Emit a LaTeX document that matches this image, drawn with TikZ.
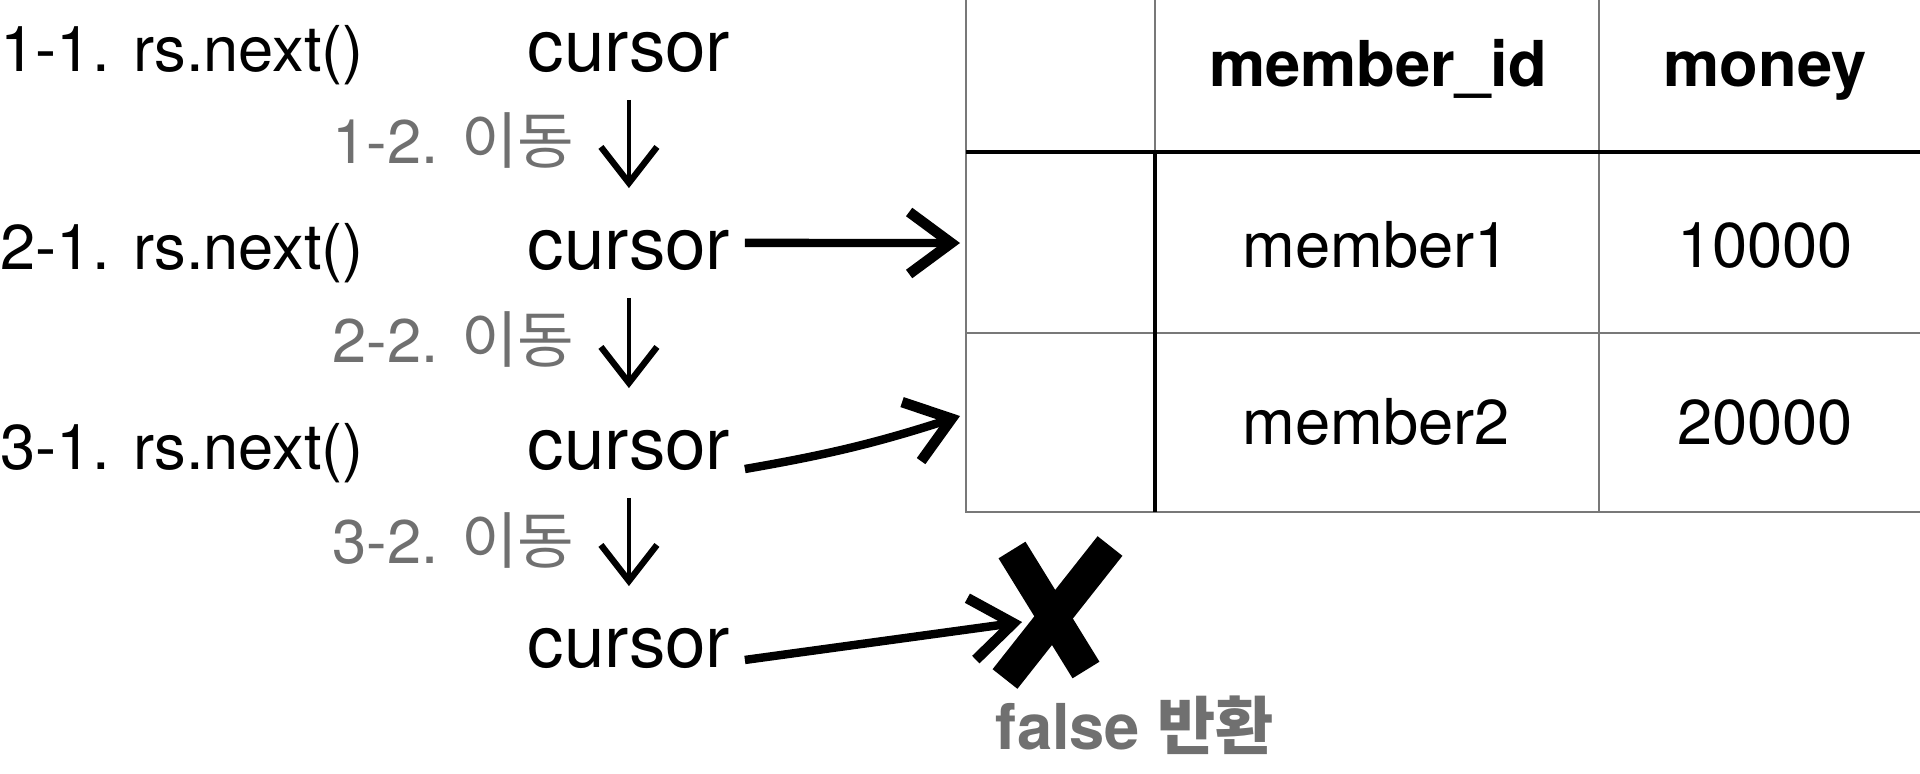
\documentclass[tikz,border=0pt]{standalone}
\usepackage{fontspec}
\setmainfont{TeX Gyre Heros}
\newfontfamily\kr{Noto Sans CJK KR}
\usetikzlibrary{arrows.meta}
\definecolor{txtgray}{RGB}{112,112,112}
\definecolor{linegray}{RGB}{120,120,120}
\tikzset{
  lbl/.style={inner sep=0pt, font=\fontsize{18}{20}\selectfont},
  cur/.style={inner sep=0pt, font=\fontsize{20.7}{24}\selectfont},
  mv/.style={inner sep=0pt, text=txtgray, font=\fontsize{17.5}{20}\selectfont},
  hd/.style={inner sep=0pt, font=\fontsize{18}{20}\selectfont\bfseries},
  movearrow/.style={line width=1.2pt, -{Straight Barb[length=0.36cm,width=0.56cm,line width=1.8pt]},
    shorten <=0.27cm, shorten >=0.41cm},
  ptr/.style={line width=2.4pt, -{Straight Barb[length=0.42cm,width=0.62cm,line width=3pt]}},
  thin/.style={linegray, line width=0.7pt},
  thick/.style={black, line width=1.3pt}
}
\begin{document}
\begin{tikzpicture}
    \useasboundingbox (0,0) rectangle (19.2,-7.73);
    % left column
    \node[lbl, anchor=base west] (n1) at (0,-0.71) {1-1. rs.next()};
    \node[lbl, anchor=base west] (n2) at (0,-2.69) {2-1. rs.next()};
    \node[lbl, anchor=base west] (n3) at (0,-4.69) {3-1. rs.next()};
    \node[cur, anchor=base west] (c1) at (5.27,-0.71) {cursor};
    \node[cur, anchor=base west] (c2) at (5.27,-2.69) {cursor};
    \node[cur, anchor=base west] (c3) at (5.27,-4.69) {cursor};
    \node[cur, anchor=base west] (c4) at (5.27,-6.67) {cursor};
    \node[mv, anchor=base east] (m1) at (5.75,-1.63) {1-2. {\kr 이동}};
    \node[mv, anchor=base east] (m2) at (5.75,-3.62) {2-2. {\kr 이동}};
    \node[mv, anchor=base east] (m3) at (5.75,-5.63) {3-2. {\kr 이동}};
    \draw[movearrow] (c1) -- (c2);
    \draw[movearrow] (c2) -- (c3);
    \draw[movearrow] (c3) -- (c4);
    % table
    \draw[thin] (9.66,0) -- (9.66,-5.12) -- (19.2,-5.12);
    \draw[thin] (9.66,-3.33) -- (19.2,-3.33);
    \draw[thin] (11.55,0) -- (11.55,-1.52);
    \draw[thin] (15.99,0) -- (15.99,-5.12);
    \draw[thick] (9.66,-1.52) -- (19.2,-1.52);
    \draw[thick] (11.55,-1.52) -- (11.55,-5.12);
    \node[hd, anchor=base] (h1) at (13.78,-0.86) {member\_id};
    \node[hd, anchor=base] (h2) at (17.65,-0.86) {money};
    \node[lbl, anchor=base] (d11) at (13.76,-2.67) {member1};
    \node[lbl, anchor=base] (d12) at (17.65,-2.67) {10000};
    \node[lbl, anchor=base] (d21) at (13.76,-4.44) {member2};
    \node[lbl, anchor=base] (d22) at (17.65,-4.44) {20000};
    % pointers
    \coordinate (r1) at (9.60,-2.43);
    \coordinate (r2) at (9.60,-4.16);
    \coordinate (nx) at (10.22,-6.22);
    \draw[ptr] ([xshift=0.14cm,yshift=0.07cm]c2.east) -- (r1);
    \draw[ptr] ([xshift=0.14cm]c3.base east) to[bend right=4] (r2);
    \draw[ptr] ([xshift=0.14cm,yshift=-0.12cm]c4.east) -- (nx);
    % x mark
    \draw[line width=9pt] (10.12,-5.50) -- (10.86,-6.70);
    \draw[line width=9pt] (11.10,-5.46) -- (10.05,-6.79);
    \node[hd, text=txtgray, anchor=base] (f) at (11.35,-7.49) {false {\kr 반환}};
\end{tikzpicture}
\end{document}
